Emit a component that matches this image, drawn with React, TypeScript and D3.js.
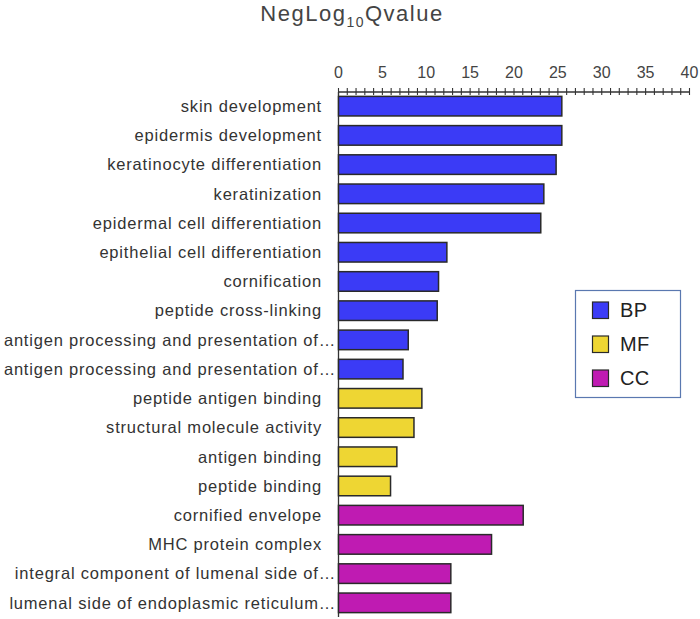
import React from "react";
import * as d3 from "d3";

const categories = [
  "skin development",
  "epidermis development",
  "keratinocyte differentiation",
  "keratinization",
  "epidermal cell differentiation",
  "epithelial cell differentiation",
  "cornification",
  "peptide cross-linking",
  "antigen processing and presentation of…",
  "antigen processing and presentation of…",
  "peptide antigen binding",
  "structural molecule activity",
  "antigen binding",
  "peptide binding",
  "cornified envelope",
  "MHC protein complex",
  "integral component of lumenal side of…",
  "lumenal side of endoplasmic reticulum…",
];
const values = [25.45, 25.45, 24.8, 23.4, 23.05, 12.35, 11.4, 11.25, 7.95, 7.35, 9.5, 8.6, 6.65, 5.93, 21.05, 17.44, 12.8, 12.8];
const groups = ["BP", "BP", "BP", "BP", "BP", "BP", "BP", "BP", "BP", "BP", "MF", "MF", "MF", "MF", "CC", "CC", "CC", "CC"];
const groupNames = ["BP", "MF", "CC"];
const groupColors = ["#3b3bf6", "#eed633", "#bf1bb2"];
const xTicks = [0, 5, 10, 15, 20, 25, 30, 35, 40];

export default function App() {
  const W = 700, H = 619;
  const x0 = 338.5, x1 = 689.5;
  const axisY = 92;
  const x = d3.scaleLinear().domain([0, 40]).range([x0, x1]);
  const ids = categories.map((_, i) => String(i));
  const y = d3.scaleBand().domain(ids).range([axisY, 617]).paddingInner(0.33).paddingOuter(0.15);
  const color = d3.scaleOrdinal<string, string>().domain(groupNames).range(groupColors);
  const font = "'Liberation Sans', Arial, Helvetica, sans-serif";
  const minor = d3.range(0, 41, 1);

  return (
    <svg width={W} height={H} style={{ position: "absolute", left: 0, top: 0, background: "#fff" }} fontFamily={font}>
      <text x={352} y={21} textAnchor="middle" fontSize={22} fill="#444" letterSpacing={1.5}>
        NegLog<tspan fontSize={14} dy={6}>10</tspan><tspan dy={-6}>Qvalue</tspan>
      </text>
      {/* top axis */}
      <line x1={x0} x2={x1} y1={axisY} y2={axisY} stroke="#333" strokeWidth={1.3} />
      {minor.map((t) => (
        <line key={t} x1={x(t)} x2={x(t)} y1={axisY - 4} y2={axisY + 3} stroke="#333" strokeWidth={1.1} />
      ))}
      {xTicks.map((t) => (
        <text key={t} x={x(t)} y={78} textAnchor="middle" fontSize={16} fill="#444">{t}</text>
      ))}
      {/* y axis */}
      <line x1={x0} x2={x0} y1={axisY} y2={617} stroke="#333" strokeWidth={1.3} />
      {categories.map((c, i) => {
        const trunc = c.endsWith("…");
        return (
          <text
            key={i}
            x={trunc ? 336 : 322}
            y={(y(String(i)) as number) + y.bandwidth() / 2}
            dy="0.35em"
            textAnchor="end"
            fontSize={16.5}
            letterSpacing={0.8}
            fill="#333"
          >
            {c}
          </text>
        );
      })}
      {values.map((v, i) => (
        <rect
          key={i}
          x={x(0)}
          y={y(String(i))}
          width={x(v) - x(0)}
          height={y.bandwidth()}
          fill={color(groups[i])}
          stroke="#2a2a2a"
          strokeWidth={1.5}
        />
      ))}
      {/* legend */}
      <rect x={575.5} y={290.5} width={105} height={107} fill="#fff" stroke="#5a78b0" strokeWidth={1.2} />
      {groupNames.map((g, i) => (
        <g key={g} transform={`translate(0, ${i * 34})`}>
          <rect x={592.5} y={302} width={16} height={16.5} fill={color(g)} stroke="#2a2a2a" strokeWidth={1.2} />
          <text x={620} y={310} dy="0.35em" fontSize={20} fill="#222" letterSpacing={0.3}>{g}</text>
        </g>
      ))}
    </svg>
  );
}
